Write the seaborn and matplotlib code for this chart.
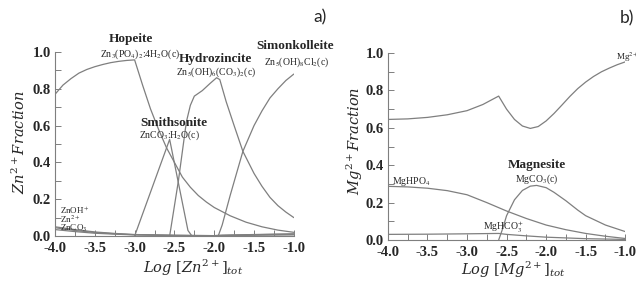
import numpy as np
import pandas as pd
import seaborn as sns
import matplotlib
matplotlib.use("Agg")
import matplotlib.pyplot as plt
from matplotlib.ticker import MultipleLocator, FormatStrFormatter

# --- panel a) Zn speciation ---
hop_x = [-4.0, -3.9, -3.8, -3.7, -3.6, -3.5, -3.4, -3.3, -3.2, -3.1, -3.0,
         -2.9, -2.8, -2.7, -2.6, -2.5, -2.4, -2.3, -2.2, -2.1, -2.0, -1.8,
         -1.6, -1.4, -1.2, -1.0]
hop_y = [0.77, 0.82, 0.855, 0.885, 0.905, 0.92, 0.932, 0.942, 0.949, 0.954, 0.957,
         0.82, 0.69, 0.58, 0.48, 0.40, 0.32, 0.265, 0.22, 0.185, 0.155, 0.11,
         0.075, 0.05, 0.032, 0.02]
smith_x = [-3.0, -2.56, -2.33, -2.28]
smith_y = [0.0, 0.525, 0.03, 0.0]
hydro_x = [-2.56, -2.45, -2.35, -2.3, -2.25, -2.15, -2.05, -1.97, -1.93, -1.85,
           -1.75, -1.64, -1.5, -1.4, -1.3, -1.2, -1.1, -1.0]
hydro_y = [0.0, 0.30, 0.62, 0.71, 0.76, 0.79, 0.83, 0.86, 0.85, 0.73,
           0.60, 0.46, 0.34, 0.27, 0.21, 0.165, 0.13, 0.10]
simon_x = [-1.95, -1.9, -1.8, -1.7, -1.64, -1.5, -1.4, -1.3, -1.2, -1.1, -1.0]
simon_y = [0.0, 0.06, 0.22, 0.37, 0.46, 0.60, 0.68, 0.75, 0.80, 0.845, 0.88]
minor_x = [-4.0, -3.75, -3.5, -3.25, -3.0, -2.5, -2.0, -1.9, -1.5, -1.0]
znoh_y = [0.05, 0.035, 0.022, 0.014, 0.008, 0.004, 0.002, 0.004, 0.008, 0.012]
zn2_y = [0.045, 0.03, 0.019, 0.012, 0.007, 0.003, 0.002, 0.004, 0.007, 0.01]
znco3_y = [0.035, 0.024, 0.015, 0.01, 0.006, 0.003, 0.001, 0.002, 0.004, 0.006]

# --- panel b) Mg speciation ---
mg_x = [-4.0, -3.75, -3.5, -3.25, -3.0, -2.8, -2.6, -2.5, -2.4, -2.3, -2.2, -2.1,
        -2.0, -1.9, -1.8, -1.7, -1.6, -1.5, -1.4, -1.3, -1.2, -1.1, -1.0]
mg_y = [0.645, 0.648, 0.656, 0.67, 0.692, 0.725, 0.77, 0.70, 0.645, 0.61, 0.597, 0.607,
        0.637, 0.677, 0.722, 0.768, 0.81, 0.845, 0.875, 0.90, 0.92, 0.938, 0.953]
mghpo4_x = [-4.0, -3.75, -3.5, -3.25, -3.0, -2.75, -2.5, -2.25, -2.0, -1.75, -1.5, -1.25, -1.0]
mghpo4_y = [0.287, 0.284, 0.277, 0.264, 0.242, 0.20, 0.155, 0.115, 0.08, 0.055, 0.035, 0.02, 0.008]
magn_x = [-2.6, -2.55, -2.5, -2.4, -2.3, -2.2, -2.12, -2.0, -1.9, -1.75, -1.6, -1.5, -1.25, -1.0]
magn_y = [0.0, 0.06, 0.13, 0.215, 0.265, 0.288, 0.292, 0.28, 0.255, 0.21, 0.16, 0.13, 0.08, 0.045]
mghco3_x = [-4.0, -3.5, -3.0, -2.6, -2.5, -2.25, -2.0, -1.5, -1.0]
mghco3_y = [0.03, 0.031, 0.033, 0.035, 0.03, 0.022, 0.015, 0.007, 0.003]

sns.set_style("ticks")
plt.rcParams['font.family'] = ['Liberation Serif', 'DejaVu Serif']
plt.rcParams['axes.unicode_minus'] = False

LINE = "#7f7f7f"
fig = plt.figure(figsize=(6.36, 2.84), dpi=100)
ax1 = fig.add_axes([0.0865, 0.169, 0.3755, 0.648])
ax2 = fig.add_axes([0.610, 0.155, 0.373, 0.658])


def curve(ax, x, y):
    sns.lineplot(x=x, y=y, ax=ax, color=LINE, lw=0.9, sort=False)


for x, y in [(hop_x, hop_y), (smith_x, smith_y), (hydro_x, hydro_y), (simon_x, simon_y),
             (minor_x, znoh_y), (minor_x, zn2_y), (minor_x, znco3_y)]:
    curve(ax1, x, y)
for x, y in [(mg_x, mg_y), (mghpo4_x, mghpo4_y), (magn_x, magn_y), (mghco3_x, mghco3_y)]:
    curve(ax2, x, y)

for ax in (ax1, ax2):
    ax.set_xlim(-4.0, -1.0)
    ax.set_ylim(0, 1.0)
    ax.xaxis.set_major_locator(MultipleLocator(0.5))
    ax.xaxis.set_minor_locator(MultipleLocator(0.25))
    ax.yaxis.set_major_locator(MultipleLocator(0.2))
    ax.yaxis.set_minor_locator(MultipleLocator(0.1))
    ax.xaxis.set_major_formatter(FormatStrFormatter('%.1f'))
    ax.yaxis.set_major_formatter(FormatStrFormatter('%.1f'))
    ax.tick_params(which='both', direction='in', length=4, width=0.7, color=LINE)
    ax.tick_params(axis='both', labelsize=10.5)
    ax.tick_params(axis='x', pad=4)
    ax.tick_params(axis='y', pad=3)
    for s in ('top', 'right'):
        ax.spines[s].set_visible(False)
    for s in ('left', 'bottom'):
        ax.spines[s].set_color(LINE)
        ax.spines[s].set_linewidth(0.8)
    for lab in ax.get_xticklabels() + ax.get_yticklabels():
        lab.set_fontweight('bold')

lbl = dict(fontsize=10.5, math_fontfamily='dejavuserif')
ax1.set_ylabel(r'$Zn^{2+}Fraction$', va='bottom', **lbl)
ax1.set_xlabel(r'$Log\ [Zn^{2+}]_{tot}$', va='top', **lbl)
ax1.yaxis.set_label_coords(-0.115, 0.508)
ax1.xaxis.set_label_coords(0.577, -0.12)
ax2.set_ylabel(r'$Mg^{2+}Fraction$', va='bottom', **lbl)
ax2.set_xlabel(r'$Log\ [Mg^{2+}]_{tot}$', va='top', **lbl)
ax2.yaxis.set_label_coords(-0.097, 0.53)
ax2.xaxis.set_label_coords(0.53, -0.107)

bold = dict(fontsize=9.5, fontweight='bold', ha='center', va='center', clip_on=False)
form = dict(fontsize=7, ha='center', va='center', math_fontfamily='stix', clip_on=False)

ax1.text(-3.05, 1.07, 'Hopeite', **bold)
ax1.text(-2.93, 0.99, r'Zn$_3$(PO$_4$)$_2$:4H$_2$O(c)', **form)
ax1.text(-1.98, 0.964, 'Hydrozincite', **bold)
ax1.text(-1.98, 0.89, r'Zn$_5$(OH)$_6$(CO$_3$)$_2$(c)', **form)
ax1.text(-0.99, 1.03, 'Simonkolleite', **bold)
ax1.text(-0.97, 0.944, r'Zn$_5$(OH)$_8$Cl$_2$(c)', **form)
ax1.text(-2.51, 0.614, 'Smithsonite', **bold)
ax1.text(-2.56, 0.55, r'ZnCO$_3$:H$_2$O(c)', **form)
small = dict(fontsize=6.5, ha='left', va='center', math_fontfamily='stix')
ax1.text(-3.94, 0.14, r'ZnOH$^{+}$', **small)
ax1.text(-3.94, 0.09, r'Zn$^{2+}$', **small)
ax1.text(-3.94, 0.04, r'ZnCO$_3$', **small)

ax2.text(-3.95, 0.315, r'MgHPO$_4$', fontsize=7, ha='left', va='center', math_fontfamily='stix')
ax2.text(-2.12, 0.40, 'Magnesite', **bold)
ax2.text(-2.12, 0.325, r'MgCO$_3$(c)', **form)
ax2.text(-2.54, 0.068, r'MgHCO$_3^{+}$', **form)
ax2.text(-1.12, 0.975, r'Mg$^{2+}$', fontsize=6.5, ha='left', va='center',
         math_fontfamily='stix', clip_on=False)

fig.text(0.492, 0.94, 'a)', fontsize=12.5, family='Lato', ha='left', va='center')
fig.text(0.975, 0.937, 'b)', fontsize=12.5, family='Lato', ha='left', va='center')

fig.savefig('out.png', dpi=100)
